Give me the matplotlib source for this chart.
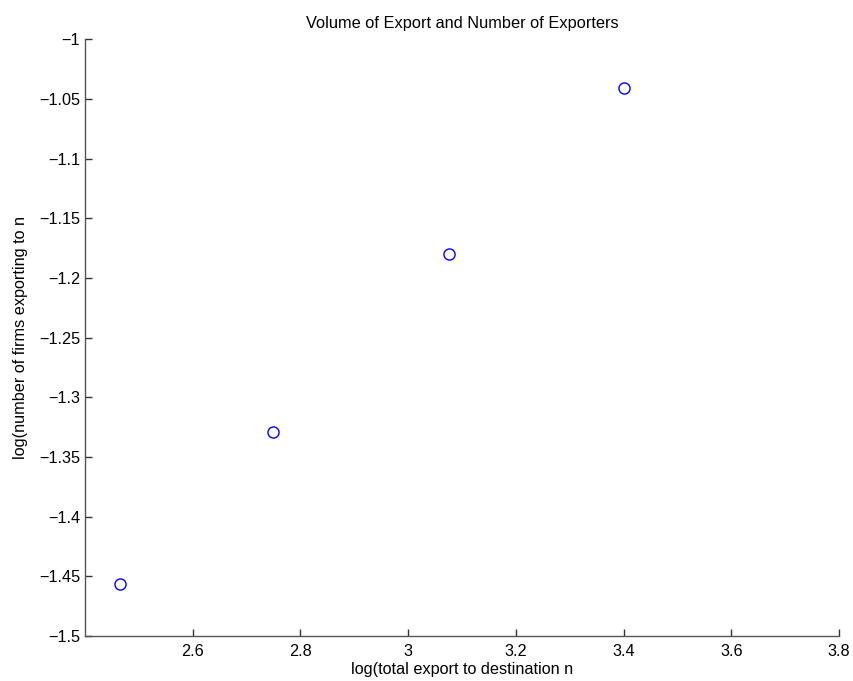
import matplotlib
matplotlib.use("Agg")
import matplotlib.pyplot as plt

# log total export vs log number of exporting firms, per destination
log_export = [2.4655, 2.7488, 3.0753, 3.4013]
log_firms = [-1.4567, -1.3290, -1.1800, -1.0410]

x_ticks = [2.6, 2.8, 3.0, 3.2, 3.4, 3.6, 3.8]
x_tick_labels = ["2.6", "2.8", "3", "3.2", "3.4", "3.6", "3.8"]
y_ticks = [-1.5, -1.45, -1.4, -1.35, -1.3, -1.25, -1.2, -1.15, -1.1, -1.05, -1.0]
y_tick_labels = ["\u22121.5", "\u22121.45", "\u22121.4", "\u22121.35", "\u22121.3", "\u22121.25",
                 "\u22121.2", "\u22121.15", "\u22121.1", "\u22121.05", "\u22121"]

plt.rcParams["font.family"] = ["Liberation Sans", "DejaVu Sans"]

fig = plt.figure(figsize=(8.54, 6.81), dpi=100)
ax = fig.add_axes([85 / 854, 1 - 636 / 681, (839 - 85) / 854, (636 - 39.3) / 681])

ax.plot(log_export, log_firms, linestyle="none", marker="o", markersize=8,
        markerfacecolor="none", markeredgecolor="#0000ff", markeredgewidth=1.0)

ax.set_xlim(2.4, 3.8)
ax.set_ylim(-1.5, -1.0)
ax.set_xticks(x_ticks)
ax.set_xticklabels(x_tick_labels)
ax.set_yticks(y_ticks)
ax.set_yticklabels(y_tick_labels)

for side in ("top", "right"):
    ax.spines[side].set_visible(False)
for side in ("left", "bottom"):
    ax.spines[side].set_color("#555555")
    ax.spines[side].set_linewidth(1.0)

ax.tick_params(direction="in", length=5, width=1.0, color="#333333",
               labelsize=11.7)
ax.tick_params(axis="x", pad=6)
ax.tick_params(axis="y", pad=3.5)

ax.set_title("Volume of Export and Number of Exporters", fontsize=11.8, pad=8)
ax.set_xlabel("log(total export to destination n", fontsize=11.7, labelpad=2)
ax.set_ylabel("log(number of firms exporting to n", fontsize=11.7, labelpad=8)

fig.savefig("out.png", dpi=100, facecolor="white")
